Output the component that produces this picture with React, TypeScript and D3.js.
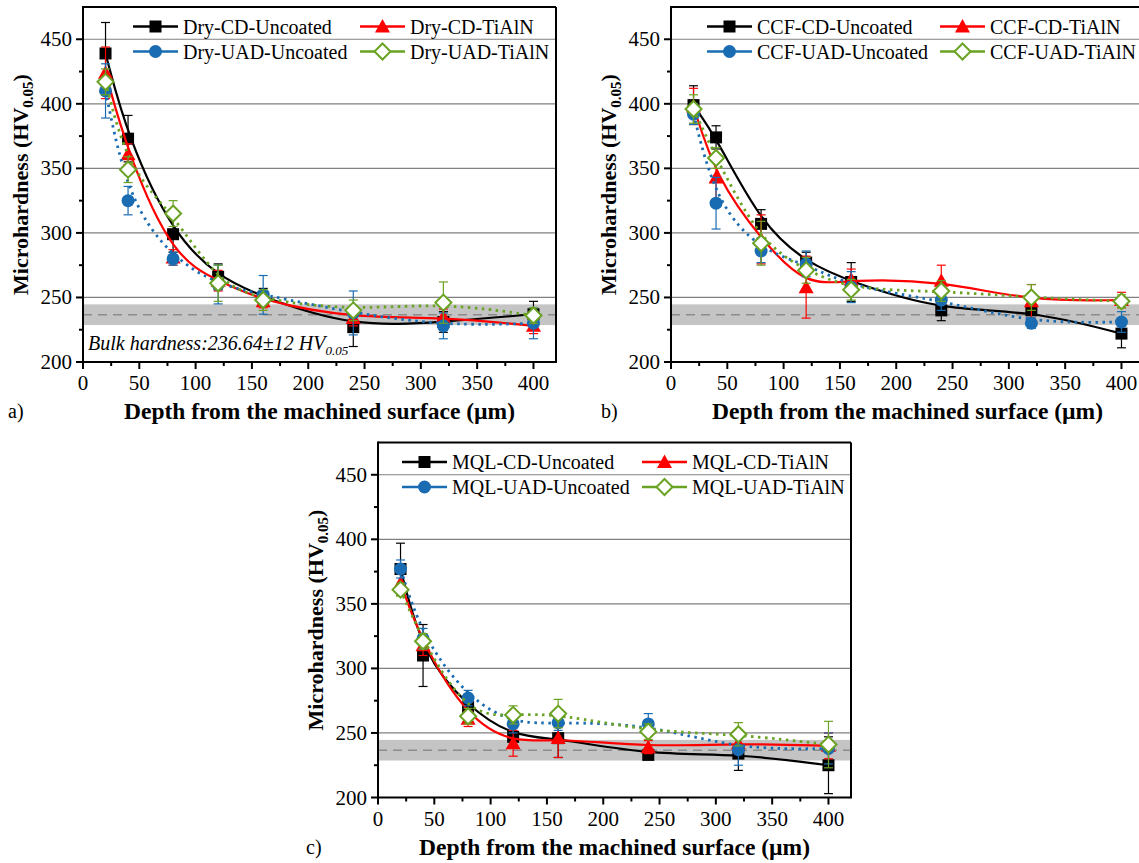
import React from "react";
import * as d3 from "d3";

// Measurement depths below the machined surface (µm)
const depths = [20, 40, 80, 120, 160, 240, 320, 400];

// Dry cutting
const dryCDUncoated = [439, 373, 299, 266, 250, 227, 231, 237];
const dryCDUncoatedErr = [24, 18, 14, 10, 7, 15, 8, 10];
const dryCDTiAlN = [424, 361, 281, 263, 247, 234, 235, 228];
const dryCDTiAlNErr = [20, 8, 6, 8, 5, 6, 6, 6];
const dryUADUncoated = [410, 325, 280, 260, 252, 238, 228, 230];
const dryUADUncoatedErr = [21, 11, 5, 15, 15, 17, 10, 12];
const dryUADTiAlN = [417, 349, 315, 261, 248, 240, 246, 236];
const dryUADTiAlNErr = [10, 10, 10, 14, 8, 8, 16, 6];

// Cryogenic coolant flow
const ccfCDUncoated = [399, 374, 307, 277, 262, 240, 240, 222];
const ccfCDUncoatedErr = [15, 9, 11, 8, 15, 8, 10, 11];
const ccfCDTiAlN = [398, 343, 295, 258, 264, 263, 247, 248];
const ccfCDTiAlNErr = [14, 18, 19, 24, 8, 12, 13, 6];
const ccfUADUncoated = [392, 323, 286, 276, 258, 248, 230, 231];
const ccfUADUncoatedErr = [8, 20, 9, 10, 12, 8, 4, 8];
const ccfUADTiAlN = [396, 358, 292, 271, 256, 255, 250, 247];
const ccfUADTiAlNErr = [11, 8, 17, 10, 8, 8, 10, 5];

// Minimum quantity lubrication
const mqlCDUncoated = [377, 310, 270, 247, 246, 233, 234, 225];
const mqlCDUncoatedErr = [20, 24, 8, 8, 15, 3, 13, 22];
const mqlCDTiAlN = [366, 318, 261, 242, 246, 239, 242, 240];
const mqlCDTiAlNErr = [8, 8, 6, 10, 15, 5, 8, 10];
const mqlUADUncoated = [377, 323, 277, 257, 258, 257, 237, 238];
const mqlUADUncoatedErr = [7, 8, 6, 7, 6, 8, 12, 12];
const mqlUADTiAlN = [361, 321, 263, 264, 265, 251, 249, 241];
const mqlUADTiAlNErr = [5, 6, 6, 7, 11, 6, 9, 18];

const xTicks = [0, 50, 100, 150, 200, 250, 300, 350, 400];
const xMinorTicks = [25, 75, 125, 175, 225, 275, 325, 375];
const yTicks = [200, 250, 300, 350, 400, 450];
const yMinorTicks = [225, 275, 325, 375, 425];
const gridValues = [250, 300, 350, 400, 450];

const bulkHardness = 236.64;
const bandHalf = 8;

const FONT = "'Liberation Serif', 'Times New Roman', serif";

type Kind = "cdU" | "cdT" | "uadU" | "uadT";

const STYLE: Record<Kind, { color: string; dotted: boolean }> = {
  cdU: { color: "#000000", dotted: false },
  cdT: { color: "#ff0000", dotted: false },
  uadU: { color: "#1a6cb2", dotted: true },
  uadT: { color: "#6aa323", dotted: true },
};

type Series = { name: string; kind: Kind; values: number[]; errors: number[] };

function Marker({ kind, x, y }: { kind: Kind; x: number; y: number }) {
  const c = STYLE[kind].color;
  if (kind === "cdU") return <rect x={x - 6} y={y - 6} width={12} height={12} fill={c} />;
  if (kind === "cdT")
    return <path d={`M${x},${y - 7.5} L${x + 7.5},${y + 6} L${x - 7.5},${y + 6} Z`} fill={c} />;
  if (kind === "uadU") return <circle cx={x} cy={y} r={6.5} fill={c} />;
  return (
    <path
      d={`M${x},${y - 8} L${x + 8},${y} L${x},${y + 8} L${x - 8},${y} Z`}
      fill="#ffffff"
      stroke={c}
      strokeWidth={2}
    />
  );
}

type PanelProps = {
  left: number;
  right: number;
  top: number;
  bottom: number;
  series: Series[];
  legendX: [number, number];
  letter: string;
  letterX: number;
  bulkNote?: boolean;
};

function Panel({ left, right, top, bottom, series, legendX, letter, letterX, bulkNote }: PanelProps) {
  const x = d3.scaleLinear().domain([0, 420]).range([left, right]);
  const y = d3.scaleLinear().domain([200, 475]).range([bottom, top]);
  const line = d3
    .line<[number, number]>()
    .x((d) => x(d[0]))
    .y((d) => y(d[1]))
    .curve(d3.curveBasis);

  const legendRows = [
    [series[0], series[1]],
    [series[2], series[3]],
  ];
  const midX = (left + right) / 2;
  const midY = (top + bottom) / 2;

  return (
    <g>
      {/* bulk hardness band */}
      <rect
        x={left}
        y={y(bulkHardness + bandHalf)}
        width={right - left}
        height={y(bulkHardness - bandHalf) - y(bulkHardness + bandHalf)}
        fill="#c4c4c4"
      />
      <line
        x1={left}
        x2={right}
        y1={y(bulkHardness)}
        y2={y(bulkHardness)}
        stroke="#8c8c8c"
        strokeWidth={1.5}
        strokeDasharray="9 6"
      />
      {gridValues.map((v) => (
        <line key={v} x1={left} x2={right} y1={y(v)} y2={y(v)} stroke="#808080" strokeWidth={1.2} />
      ))}

      {series.map((s) => {
        const st = STYLE[s.kind];
        const pts = depths.map((d, i) => [d, s.values[i]] as [number, number]);
        return (
          <g key={s.name}>
            <path
              d={line(pts) || ""}
              fill="none"
              stroke={st.color}
              strokeWidth={st.dotted ? 2.8 : 2.2}
              strokeDasharray={st.dotted ? "2.5 4.5" : undefined}
            />
            {depths.map((d, i) => {
              const cx = x(d);
              const y1 = y(s.values[i] + s.errors[i]);
              const y2 = y(s.values[i] - s.errors[i]);
              return (
                <g key={i} stroke={st.color} strokeWidth={1.2}>
                  <line x1={cx} x2={cx} y1={y1} y2={y2} />
                  <line x1={cx - 4.5} x2={cx + 4.5} y1={y1} y2={y1} />
                  <line x1={cx - 4.5} x2={cx + 4.5} y1={y2} y2={y2} />
                </g>
              );
            })}
            {depths.map((d, i) => (
              <Marker key={i} kind={s.kind} x={x(d)} y={y(s.values[i])} />
            ))}
          </g>
        );
      })}

      {/* frame and axes */}
      <line x1={left} x2={right} y1={top} y2={top} stroke="#000" strokeWidth={2} />
      <line x1={right} x2={right} y1={top} y2={bottom} stroke="#000" strokeWidth={2} />
      <line x1={left} x2={left} y1={top - 1} y2={bottom + 1} stroke="#000" strokeWidth={2} />
      <line x1={left - 1} x2={right + 1} y1={bottom} y2={bottom} stroke="#000" strokeWidth={2} />

      {xTicks.map((t) => (
        <g key={t}>
          <line x1={x(t)} x2={x(t)} y1={bottom} y2={bottom + 7} stroke="#000" strokeWidth={2} />
          <text x={x(t)} y={bottom + 28} textAnchor="middle" fontSize={21} fontFamily={FONT}>
            {t}
          </text>
        </g>
      ))}
      {xMinorTicks.map((t) => (
        <line key={t} x1={x(t)} x2={x(t)} y1={bottom} y2={bottom + 4} stroke="#000" strokeWidth={2} />
      ))}
      {yTicks.map((t) => (
        <g key={t}>
          <line x1={left - 7} x2={left} y1={y(t)} y2={y(t)} stroke="#000" strokeWidth={2} />
          <text x={left - 11} y={y(t) + 7} textAnchor="end" fontSize={21} fontFamily={FONT}>
            {t}
          </text>
        </g>
      ))}
      {yMinorTicks.map((t) => (
        <line key={t} x1={left - 4} x2={left} y1={y(t)} y2={y(t)} stroke="#000" strokeWidth={2} />
      ))}

      {/* legend */}
      {legendRows.map((row, r) =>
        row.map((s, c) => {
          const lx = legendX[c];
          const ly = top + 19.5 + r * 25;
          const st = STYLE[s.kind];
          return (
            <g key={s.name}>
              <line x1={lx} x2={lx + 45} y1={ly} y2={ly} stroke={st.color} strokeWidth={2.5} />
              <Marker kind={s.kind} x={lx + 22.5} y={ly} />
              <text x={lx + 50} y={ly + 7} fontSize={20} fontFamily={FONT}>
                {s.name}
              </text>
            </g>
          );
        })
      )}

      {bulkNote && (
        <text x={left + 5} y={bottom - 12} fontSize={20} fontStyle="italic" fontFamily={FONT}>
          Bulk hardness:236.64±12 HV
          <tspan fontSize={13} dy={5}>
            0.05
          </tspan>
        </text>
      )}

      {/* axis titles */}
      <text
        x={midX}
        y={bottom + 57}
        textAnchor="middle"
        fontSize={23.5}
        fontWeight="bold"
        fontFamily={FONT}
      >
        Depth from the machined surface (µm)
      </text>
      <text
        transform={`translate(${left - 55},${midY}) rotate(-90)`}
        textAnchor="middle"
        fontSize={22}
        fontWeight="bold"
        fontFamily={FONT}
      >
        Microhardness (HV
        <tspan fontSize={15} dy={5}>
          0.05
        </tspan>
        <tspan dy={-5}>)</tspan>
      </text>
      <text x={letterX} y={bottom + 56} fontSize={20} fontFamily={FONT}>
        {letter}
      </text>
    </g>
  );
}

const drySeries: Series[] = [
  { name: "Dry-CD-Uncoated", kind: "cdU", values: dryCDUncoated, errors: dryCDUncoatedErr },
  { name: "Dry-CD-TiAlN", kind: "cdT", values: dryCDTiAlN, errors: dryCDTiAlNErr },
  { name: "Dry-UAD-Uncoated", kind: "uadU", values: dryUADUncoated, errors: dryUADUncoatedErr },
  { name: "Dry-UAD-TiAlN", kind: "uadT", values: dryUADTiAlN, errors: dryUADTiAlNErr },
];
const ccfSeries: Series[] = [
  { name: "CCF-CD-Uncoated", kind: "cdU", values: ccfCDUncoated, errors: ccfCDUncoatedErr },
  { name: "CCF-CD-TiAlN", kind: "cdT", values: ccfCDTiAlN, errors: ccfCDTiAlNErr },
  { name: "CCF-UAD-Uncoated", kind: "uadU", values: ccfUADUncoated, errors: ccfUADUncoatedErr },
  { name: "CCF-UAD-TiAlN", kind: "uadT", values: ccfUADTiAlN, errors: ccfUADTiAlNErr },
];
const mqlSeries: Series[] = [
  { name: "MQL-CD-Uncoated", kind: "cdU", values: mqlCDUncoated, errors: mqlCDUncoatedErr },
  { name: "MQL-CD-TiAlN", kind: "cdT", values: mqlCDTiAlN, errors: mqlCDTiAlNErr },
  { name: "MQL-UAD-Uncoated", kind: "uadU", values: mqlUADUncoated, errors: mqlUADUncoatedErr },
  { name: "MQL-UAD-TiAlN", kind: "uadT", values: mqlUADTiAlN, errors: mqlUADTiAlNErr },
];

export default function App() {
  return (
    <svg
      width={1139}
      height={863}
      style={{ position: "absolute", left: 0, top: 0, background: "#fff" }}
    >
      <Panel
        left={83}
        right={556}
        top={7}
        bottom={362}
        series={drySeries}
        legendX={[133, 360]}
        letter="a)"
        letterX={8}
        bulkNote
      />
      <Panel
        left={671}
        right={1144}
        top={7}
        bottom={362}
        series={ccfSeries}
        legendX={[707, 940]}
        letter="b)"
        letterX={601}
      />
      <Panel
        left={378}
        right={851}
        top={442.5}
        bottom={797.5}
        series={mqlSeries}
        legendX={[402, 642]}
        letter="c)"
        letterX={306}
      />
    </svg>
  );
}
